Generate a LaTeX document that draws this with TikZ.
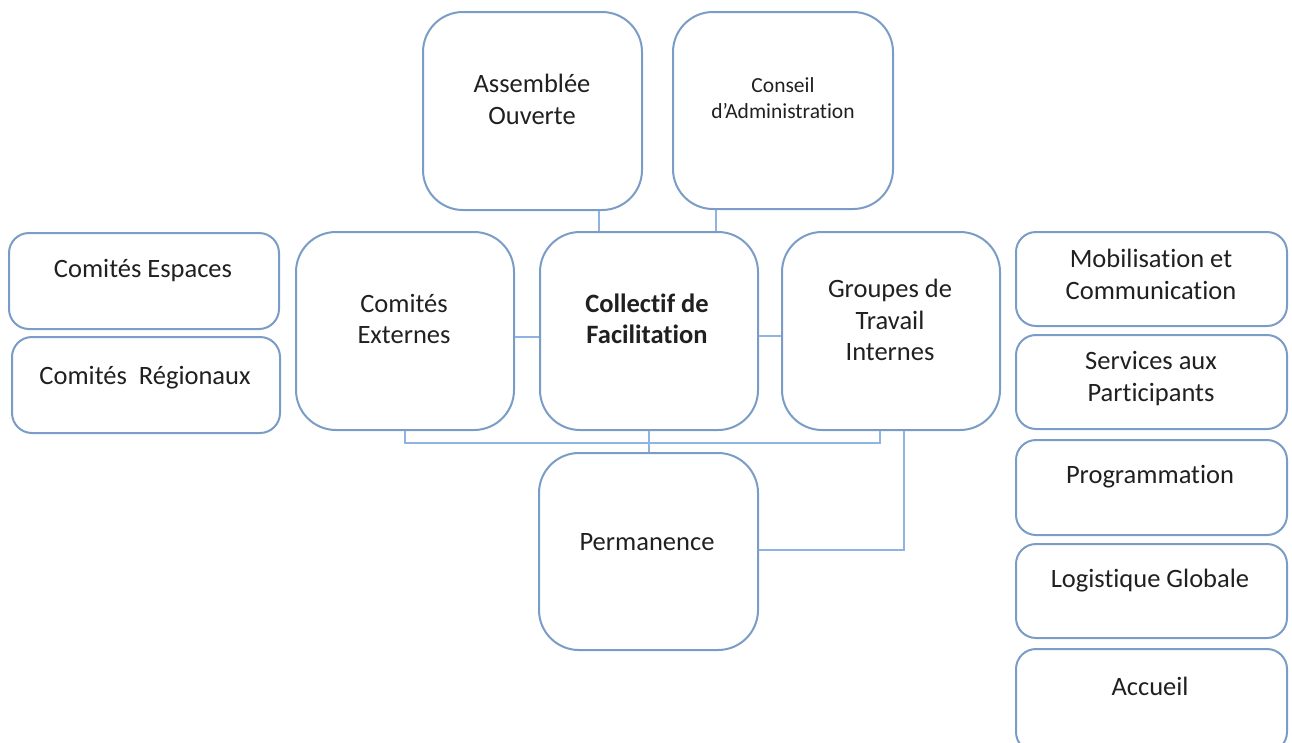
\documentclass[tikz,border=0pt]{standalone}
\usepackage{fontspec}
\setmainfont{Carlito}[Ligatures=NoCommon]
\definecolor{boxc}{HTML}{7A9CC6}
\definecolor{linec}{HTML}{8DB4E2}
\definecolor{txtc}{HTML}{202020}
\tikzset{
  bigbox/.style={draw=boxc, line width=2pt, rounded corners=40pt, minimum width=218pt, minimum height=198pt, inner sep=0pt},
  smallbox/.style={draw=boxc, line width=2pt, rounded corners=20pt, inner sep=0pt},
  lbl/.style={text=txtc, align=center, inner sep=0pt, font=\fontsize{26.5}{31.5}\selectfont},
  lblsm/.style={text=txtc, align=center, inner sep=0pt, font=\fontsize{21.5}{26}\selectfont},
  conn/.style={draw=linec, line width=2pt}
}
\begin{document}
\begin{tikzpicture}[x=1pt,y=-1pt]
\useasboundingbox (0,0) rectangle (1292,742);
% big boxes
\node[bigbox, minimum width=219pt] (ao) at (532.5,111) {};
\node[bigbox, minimum width=220pt, minimum height=197pt] (ca) at (783,110.5) {};
\node[bigbox] (ce) at (405,331) {};
\node[bigbox] (cf) at (649,331) {};
\node[bigbox] (gt) at (891,331) {};
\node[bigbox, minimum width=219pt, minimum height=197pt] (pe) at (648.5,551.5) {};
% left boxes
\node[smallbox, minimum width=270pt, minimum height=96pt] (es) at (144,281) {};
\node[smallbox, minimum width=268pt, minimum height=96pt] (rg) at (146,385) {};
% right boxes
\node[smallbox, minimum width=271pt, minimum height=94pt] (mc) at (1151.5,279) {};
\node[smallbox, minimum width=271pt, minimum height=94pt] (sp) at (1151.5,382) {};
\node[smallbox, minimum width=271pt, minimum height=95pt] (pr) at (1151.5,487.5) {};
\node[smallbox, minimum width=271pt, minimum height=94pt] (lg) at (1151.5,591) {};
\node[smallbox, minimum width=271pt, minimum height=103pt] (ac) at (1151.5,700.5) {};
% labels
\node[lbl] (aoT) at (532,99.5) {Assemblée\\Ouverte};
\node[lblsm] (caT) at (783,98) {Conseil\\d’Administration};
\node[lbl] (ceT) at (404,319) {Comités\\Externes};
\node[lbl, font=\fontsize{26.5}{31.5}\selectfont\bfseries] (cfT) at (647,319) {Collectif de\\Facilitation};
\node[lbl] (gtT) at (890,320) {Groupes de\\Travail\\Internes};
\node[lbl] (peT) at (647,542) {Permanence};
\node[lbl] (esT) at (143,271) {Comités Espaces};
\node[lbl] (rgT) at (145,378) {Comités~~Régionaux};
\node[lbl] (mcT) at (1151,274.5) {Mobilisation et\\Communication};
\node[lbl] (spT) at (1151,378.5) {Services aux\\Participants};
\node[lbl] (prT) at (1150,477) {Programmation};
\node[lbl] (lgT) at (1150,581) {Logistique Globale};
\node[lbl] (acT) at (1150,686) {Accueil};
% connectors
\draw[conn] ([xshift=66.5pt]ao.south) -- ([xshift=66.5pt]ao.south |- cf.north);
\draw[conn] ([xshift=-67pt]ca.south) -- ([xshift=-67pt]ca.south |- cf.north);
\draw[conn] ([yshift=-6pt]ce.east) -- ([yshift=-6pt]ce.east -| cf.west);
\draw[conn] ([yshift=-5pt]cf.east) -- ([yshift=-5pt]cf.east -| gt.west);
\coordinate (bl) at (405,443);
\draw[conn] (ce.south) -- (ce.south |- bl) -| ([xshift=-11pt]gt.south);
\draw[conn] (cf.south) -- (cf.south |- pe.north);
\draw[conn] ([xshift=13pt]gt.south) |- ([yshift=2pt]pe.east);
\end{tikzpicture}
\end{document}
